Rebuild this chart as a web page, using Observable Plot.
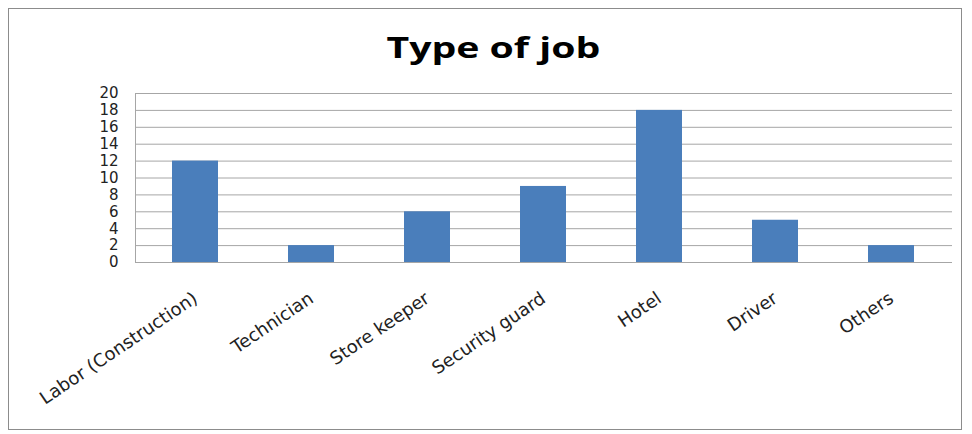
<!DOCTYPE html>
<html>
<head>
<meta charset="utf-8">
<script src="https://cdn.jsdelivr.net/npm/d3@7"></script>
<script src="https://cdn.jsdelivr.net/npm/@observablehq/plot@0.6"></script>
<style>
  html, body { margin: 0; padding: 0; background: #fff; width: 972px; height: 434px; overflow: hidden; }
  #frame { position: absolute; left: 8px; top: 8px; width: 954px; height: 422px; border: 1.5px solid #8c8c8c; box-sizing: border-box; pointer-events: none; }
  #title { height: 80px; margin: 0; padding-top: 30px; box-sizing: border-box; text-align: center; font-family: "Open Sans", sans-serif; font-weight: bold; font-size: 28px; line-height: 34px; color: #000; }
  #title span { display: inline-block; transform: scaleX(1.4); transform-origin: center; margin-left: 14px; }
  #chart svg { display: block; }
</style>
</head>
<body>
<div id="title"><span>Type of job</span></div>
<div id="chart"></div>
<div id="frame"></div>
<script>
const categories = ["Labor (Construction)", "Technician", "Store keeper", "Security guard", "Hotel", "Driver", "Others"];
const values = [12, 2, 6, 9, 18, 5, 2];
const yTicks = [0, 2, 4, 6, 8, 10, 12, 14, 16, 18, 20];

const data = categories.map((c, i) => ({category: c, value: values[i]}));

const chart = Plot.plot({
  width: 972,
  height: 354,
  marginLeft: 135,
  marginRight: 20,
  marginTop: 13,
  marginBottom: 172,
  style: {fontFamily: "'DejaVu Sans', sans-serif", fontSize: "15px", color: "#222", background: "transparent"},
  x: {domain: categories, paddingInner: 0.6, paddingOuter: 0.3, label: null},
  y: {domain: [0, 20], ticks: yTicks, label: null},
  marks: [
    Plot.gridY(yTicks, {stroke: "#a6a6a6", strokeOpacity: 1, strokeWidth: 1}),
    Plot.frame({anchor: "left", stroke: "#a6a6a6"}),
    Plot.barY(data, {x: "category", y: "value", fill: "#4a7ebb"}),
    Plot.ruleY([0], {stroke: "#a6a6a6"}),
    Plot.axisY(yTicks, {tickSize: 0, tickPadding: 17, fontSize: 15, tickFormat: d => String(d)}),
    Plot.axisX({tickSize: 0, tickPadding: 34, tickRotate: -34, fontSize: 18})
  ]
});
document.getElementById("chart").appendChild(chart);
</script>
</body>
</html>
